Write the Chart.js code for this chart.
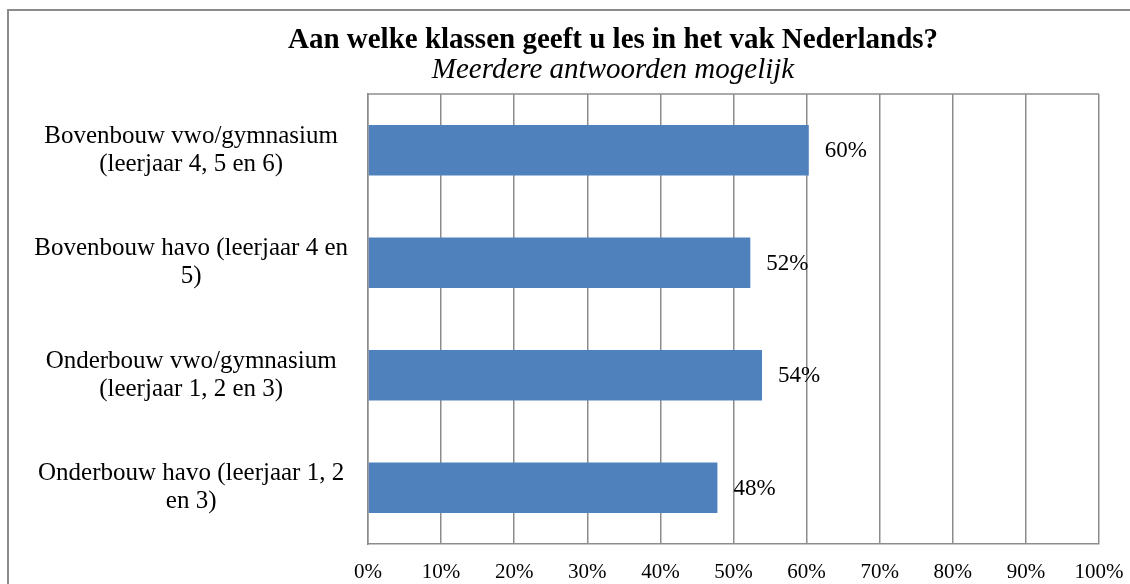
<!DOCTYPE html>
<html>
<head>
<meta charset="utf-8">
<script src="https://cdn.jsdelivr.net/npm/chart.js@4"></script>
<style>
    html, body { margin: 0; padding: 0; background: #fff; overflow: hidden; }
    #frame {
        position: absolute; left: 7px; top: 9px; width: 1300px; height: 700px;
        border-left: 2px solid #8c8c8c; border-top: 2px solid #8c8c8c;
    }
    /* het oorspronkelijke kader loopt rechts buiten beeld door */
    #wrap { position: absolute; left: 0; top: 0; width: 1226px; height: 584px; }
</style>
</head>
<body>
<div id="frame"></div>
<div id="wrap"><canvas id="chart"></canvas></div>
<script>
// categorieën en waarden
const categories = [
    ['Bovenbouw vwo/gymnasium', '(leerjaar 4, 5 en 6)'],
    ['Bovenbouw havo (leerjaar 4 en', '5)'],
    ['Onderbouw vwo/gymnasium', '(leerjaar 1, 2 en 3)'],
    ['Onderbouw havo (leerjaar 1, 2', 'en 3)']
];
const percentages = [60.3, 52.3, 53.9, 47.8];
const xTicks = [0, 10, 20, 30, 40, 50, 60, 70, 80, 90, 100];

const titleText = 'Aan welke klassen geeft u les in het vak Nederlands?';
const subtitleText = 'Meerdere antwoorden mogelijk';

const FONT = '"Liberation Serif", "Times New Roman", serif';
const GRID = '#8c8c8c';

// bovenrand van het plotgebied
const topBorder = {
    id: 'topBorder',
    afterDraw(chart) {
        const { ctx, chartArea } = chart;
        ctx.save();
        ctx.strokeStyle = GRID;
        ctx.lineWidth = 1.5;
        ctx.beginPath();
        ctx.moveTo(chartArea.left, chartArea.top);
        ctx.lineTo(chartArea.right, chartArea.top);
        ctx.stroke();
        ctx.restore();
    }
};

// waardelabels naast de balken
const valueLabels = {
    id: 'valueLabels',
    afterDatasetsDraw(chart) {
        const { ctx } = chart;
        const meta = chart.getDatasetMeta(0);
        ctx.save();
        ctx.font = '23px ' + FONT;
        ctx.fillStyle = '#000';
        ctx.textAlign = 'left';
        ctx.textBaseline = 'middle';
        meta.data.forEach((bar, i) => {
            ctx.fillText(Math.round(percentages[i]) + '%', bar.x + 16, bar.y + 1);
        });
        ctx.restore();
    }
};

const ctx = document.getElementById('chart').getContext('2d');
new Chart(ctx, {
    type: 'bar',
    data: {
        labels: categories,
        datasets: [{
            data: percentages,
            backgroundColor: '#4f81bd',
            borderWidth: 0,
            categoryPercentage: 0.45,
            barPercentage: 1
        }]
    },
    options: {
        indexAxis: 'y',
        responsive: true,
        maintainAspectRatio: false,
        animation: false,
        events: [],
        layout: { padding: 0 },
        scales: {
            x: {
                min: 0,
                max: 100,
                afterFit: (scale) => { scale.height = 40; },
                afterBuildTicks: (scale) => { scale.ticks = xTicks.map(v => ({ value: v })); },
                grid: { color: GRID, lineWidth: 1.5, drawTicks: false },
                border: { color: GRID, width: 1.5 },
                ticks: {
                    color: '#000',
                    font: { family: FONT, size: 21 },
                    padding: 16,
                    callback: (v) => v + '%'
                }
            },
            y: {
                afterFit: (scale) => {
                    scale.width = 368;
                    scale.paddingTop = 0;
                    scale.paddingBottom = 0;
                },
                grid: { display: false, drawTicks: false },
                border: { color: GRID, width: 1.5 },
                ticks: {
                    color: '#000',
                    font: { family: FONT, size: 25, lineHeight: 1.12 },
                    padding: 20,
                    crossAlign: 'center'
                }
            },
            // lege as rechts: houdt ruimte vrij zodat de titel midden in het kader staat
            yRight: {
                type: 'linear',
                position: 'right',
                grid: { display: false, drawTicks: false },
                border: { display: false },
                ticks: { display: false },
                afterFit: (scale) => {
                    scale.width = 127;
                    scale.paddingTop = 0;
                    scale.paddingBottom = 0;
                }
            }
        },
        plugins: {
            legend: { display: false },
            tooltip: { enabled: false },
            title: {
                display: true,
                text: titleText,
                color: '#000',
                font: { family: FONT, size: 29, weight: 'bold', lineHeight: 1 },
                padding: { top: 26, bottom: 0 }
            },
            subtitle: {
                display: true,
                text: subtitleText,
                color: '#000',
                font: { family: FONT, size: 29, style: 'italic', lineHeight: 1 },
                padding: { top: 1, bottom: 9 }
            }
        }
    },
    plugins: [topBorder, valueLabels]
});
</script>
</body>
</html>
